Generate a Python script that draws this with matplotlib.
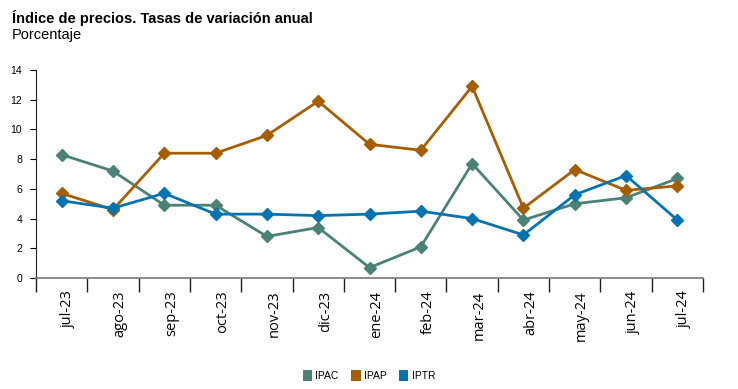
import numpy as np
import matplotlib.pyplot as plt
import matplotlib.transforms as mtransforms
from matplotlib.patches import Patch

meses = ["jul-23", "ago-23", "sep-23", "oct-23", "nov-23", "dic-23", "ene-24",
         "feb-24", "mar-24", "abr-24", "may-24", "jun-24", "jul-24"]
ipac = [8.3, 7.2, 4.9, 4.9, 2.8, 3.4, 0.7, 2.1, 7.7, 3.9, 5.0, 5.4, 6.7]
ipap = [5.7, 4.6, 8.4, 8.4, 9.6, 11.9, 9.0, 8.6, 12.9, 4.7, 7.3, 5.9, 6.2]
iptr = [5.2, 4.7, 5.7, 4.3, 4.3, 4.2, 4.3, 4.5, 4.0, 2.9, 5.6, 6.9, 3.9]

series = [("IPAC", ipac, "#4b8177"), ("IPAP", ipap, "#a65e03"), ("IPTR", iptr, "#0673b0")]

plt.rcParams["font.family"] = ["Liberation Sans", "DejaVu Sans"]

fig = plt.figure(figsize=(7.38, 3.89), dpi=100)
ax = fig.add_axes([0.0488, 0.2853, 0.9038, 0.5347])

x = np.arange(len(meses))
for name, vals, col in series:
    ax.plot(x, vals, color=col, linewidth=2, marker="D", markersize=6, label=name)

ax.set_xlim(-0.5, len(meses) - 0.5)
ax.set_ylim(0, 14)
ax.set_yticks(range(0, 15, 2))
ax.tick_params(axis="y", labelsize=7.5, length=4, width=0.8, pad=6)

ax.set_xticks(x)
ax.set_xticklabels(meses, rotation=90, fontsize=10.5, family="Open Sans")
ax.set_xticks(np.arange(-0.5, len(meses)), minor=True)
ax.tick_params(axis="x", which="major", length=0, pad=9)
ax.tick_params(axis="x", which="minor", length=10, width=1, color="#222222")

# labels sit a bit right of the category centre in the original
shift = mtransforms.ScaledTranslation(7 / 100, 0, fig.dpi_scale_trans)
for lbl in ax.get_xticklabels():
    lbl.set_transform(lbl.get_transform() + shift)

for s in ["top", "right"]:
    ax.spines[s].set_visible(False)
ax.spines["left"].set_color("#222222")
ax.spines["bottom"].set_color("#777777")
ax.spines["bottom"].set_linewidth(1.2)

fig.text(0.016, 0.955, "Índice de precios. Tasas de variación anual",
         fontsize=10.5, fontweight="bold", va="center")
fig.text(0.016, 0.91, "Porcentaje", fontsize=10.5, va="center")

handles = [Patch(facecolor=c, label=n) for n, _, c in series]
fig.legend(handles=handles, loc="center", bbox_to_anchor=(0.5, 0.035), ncol=3,
           frameon=False, fontsize=7.5, handlelength=0.9, handleheight=1.3,
           handletextpad=0.3, columnspacing=1.2)

fig.savefig("out.png", dpi=100)
